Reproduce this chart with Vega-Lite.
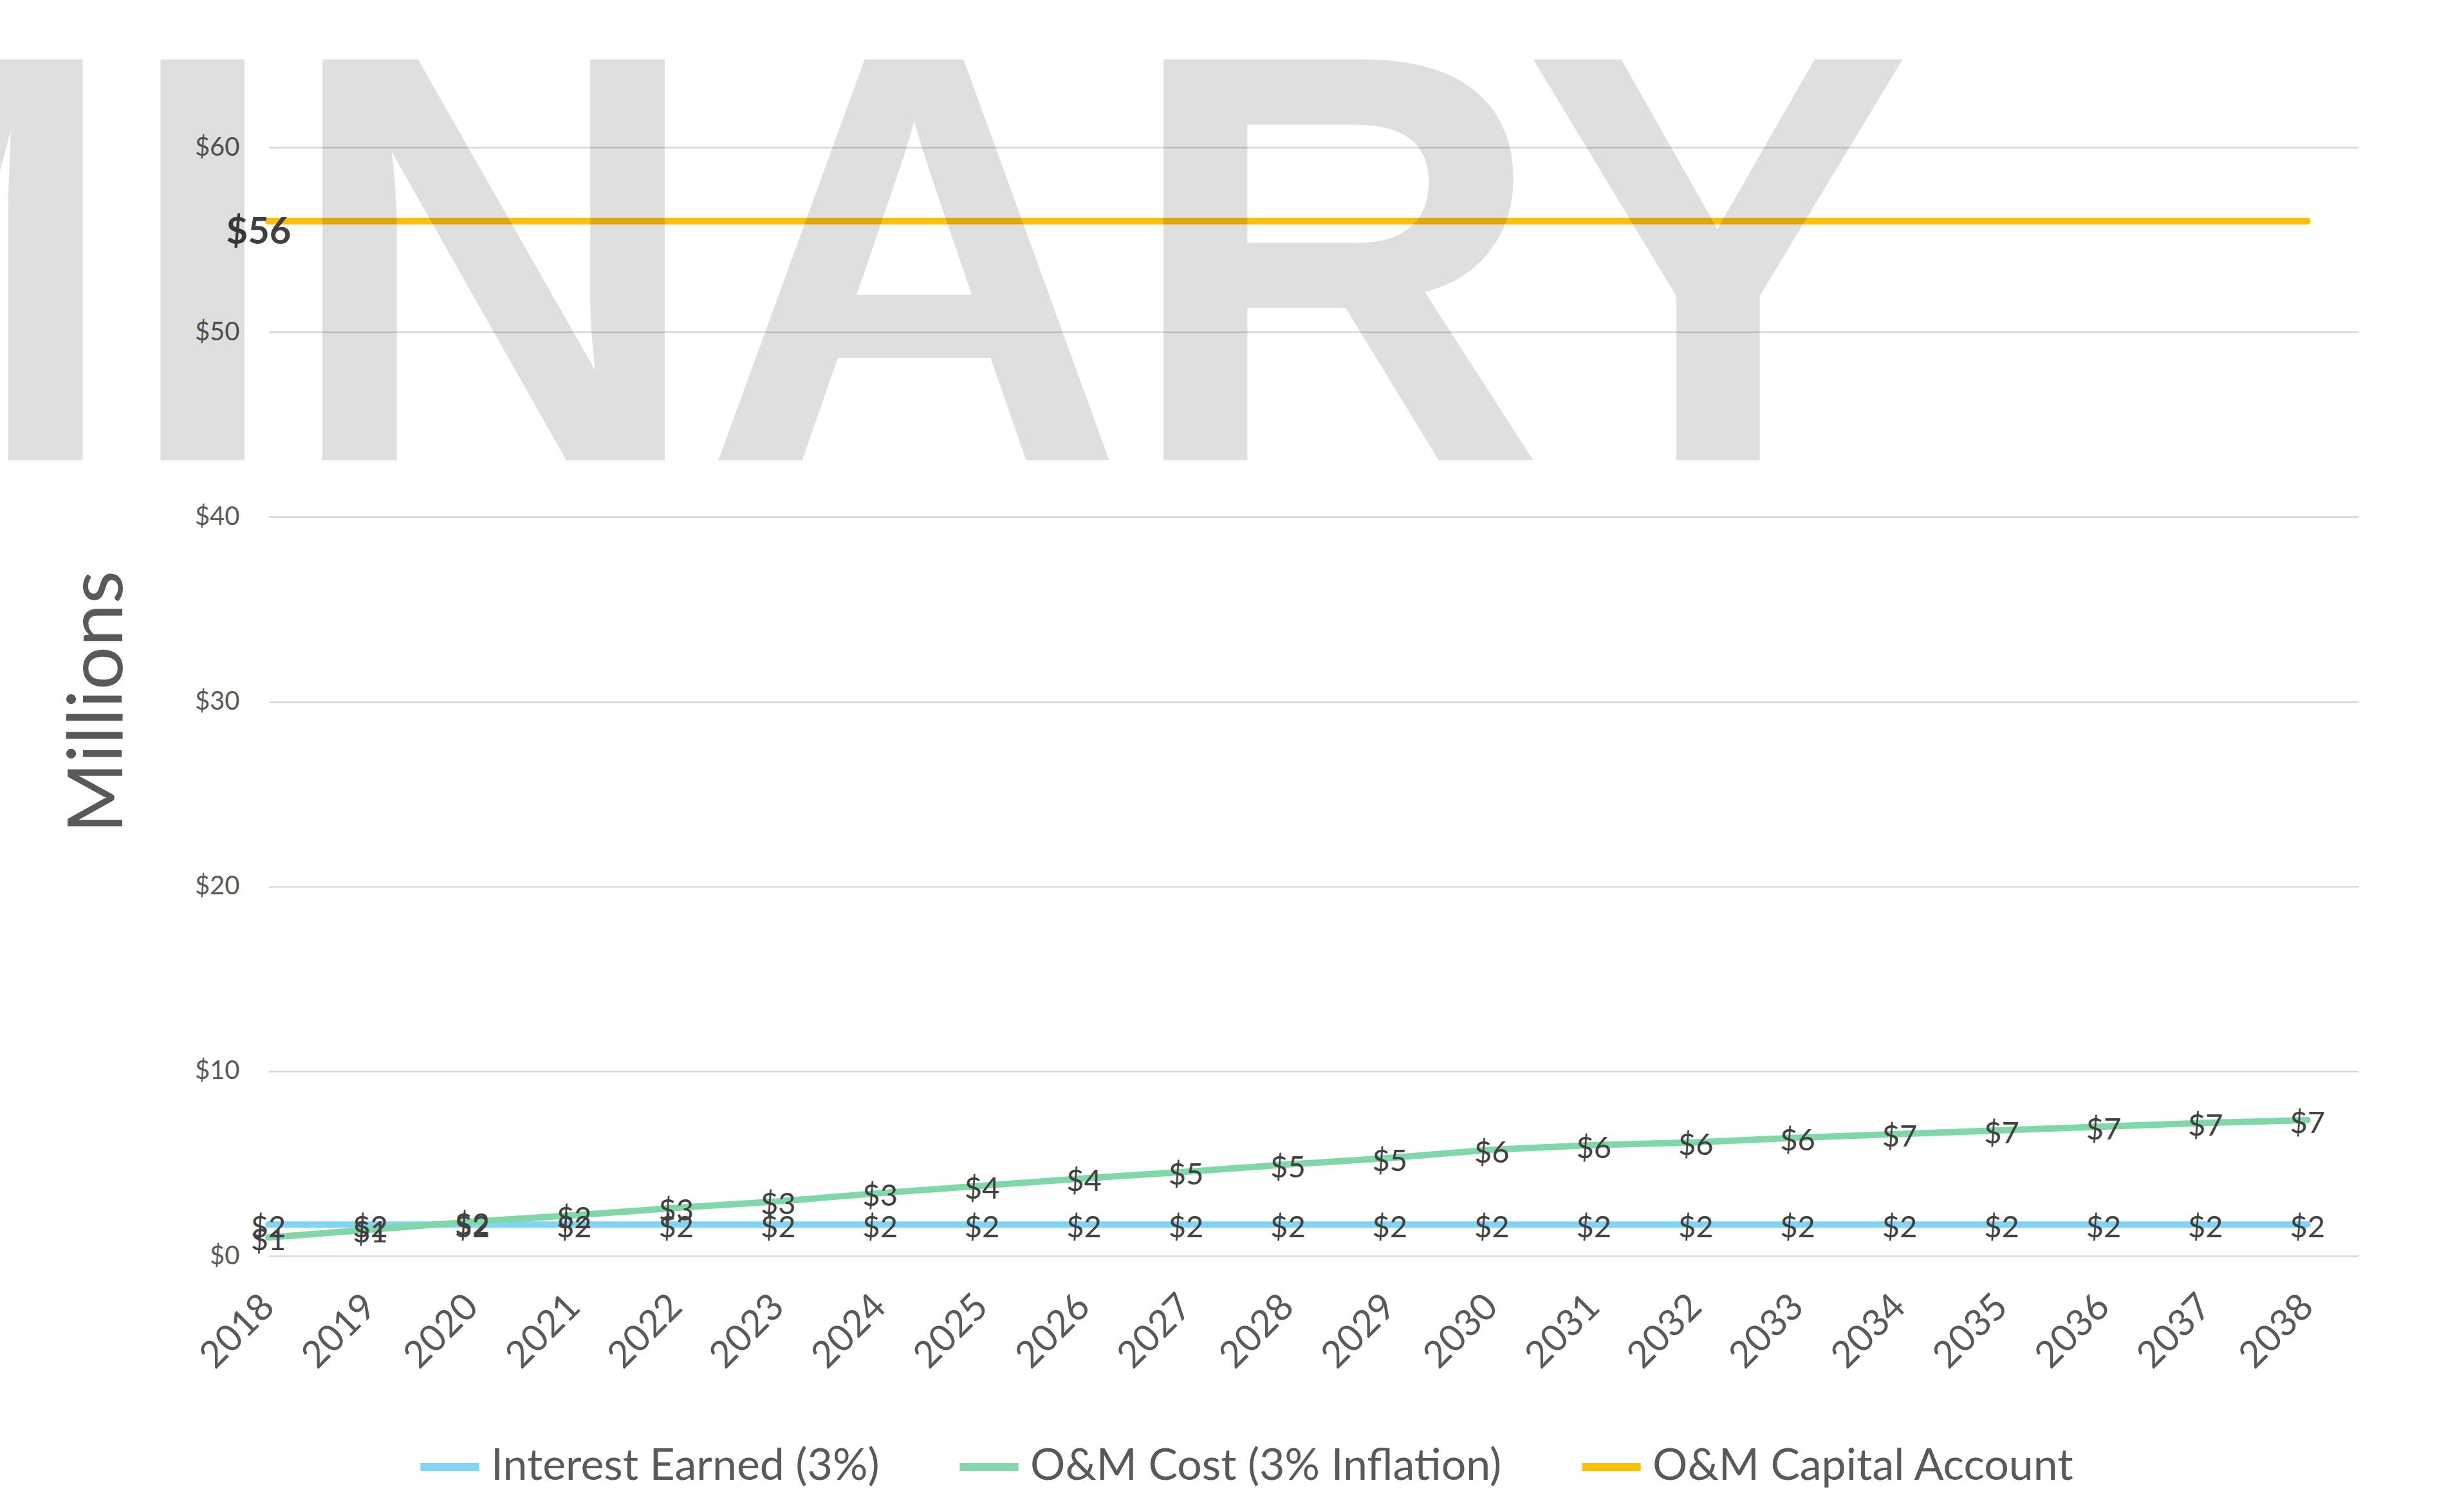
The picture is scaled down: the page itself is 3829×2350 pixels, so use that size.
{
  "$schema": "https://vega.github.io/schema/vega-lite/v6.json",
  "autosize": {"type": "none"},
  "padding": {"left": 417, "top": 229, "right": 164, "bottom": 398},
  "width": 3248,
  "height": 1723,
  "background": "white",
  "config": {"view": {"stroke": null}, "font": "Lato"},
  "datasets": {
    "series": [
      {"year": 2018, "series": "Interest Earned (3%)", "value": 1.7},
      {"year": 2019, "series": "Interest Earned (3%)", "value": 1.7},
      {"year": 2020, "series": "Interest Earned (3%)", "value": 1.7},
      {"year": 2021, "series": "Interest Earned (3%)", "value": 1.7},
      {"year": 2022, "series": "Interest Earned (3%)", "value": 1.7},
      {"year": 2023, "series": "Interest Earned (3%)", "value": 1.7},
      {"year": 2024, "series": "Interest Earned (3%)", "value": 1.7},
      {"year": 2025, "series": "Interest Earned (3%)", "value": 1.7},
      {"year": 2026, "series": "Interest Earned (3%)", "value": 1.7},
      {"year": 2027, "series": "Interest Earned (3%)", "value": 1.7},
      {"year": 2028, "series": "Interest Earned (3%)", "value": 1.7},
      {"year": 2029, "series": "Interest Earned (3%)", "value": 1.7},
      {"year": 2030, "series": "Interest Earned (3%)", "value": 1.7},
      {"year": 2031, "series": "Interest Earned (3%)", "value": 1.7},
      {"year": 2032, "series": "Interest Earned (3%)", "value": 1.7},
      {"year": 2033, "series": "Interest Earned (3%)", "value": 1.7},
      {"year": 2034, "series": "Interest Earned (3%)", "value": 1.7},
      {"year": 2035, "series": "Interest Earned (3%)", "value": 1.7},
      {"year": 2036, "series": "Interest Earned (3%)", "value": 1.7},
      {"year": 2037, "series": "Interest Earned (3%)", "value": 1.7},
      {"year": 2038, "series": "Interest Earned (3%)", "value": 1.7},
      {"year": 2018, "series": "O&M Cost (3% Inflation)", "value": 1.0},
      {"year": 2019, "series": "O&M Cost (3% Inflation)", "value": 1.42},
      {"year": 2020, "series": "O&M Cost (3% Inflation)", "value": 1.85},
      {"year": 2021, "series": "O&M Cost (3% Inflation)", "value": 2.2},
      {"year": 2022, "series": "O&M Cost (3% Inflation)", "value": 2.6},
      {"year": 2023, "series": "O&M Cost (3% Inflation)", "value": 2.95},
      {"year": 2024, "series": "O&M Cost (3% Inflation)", "value": 3.4},
      {"year": 2025, "series": "O&M Cost (3% Inflation)", "value": 3.8},
      {"year": 2026, "series": "O&M Cost (3% Inflation)", "value": 4.2},
      {"year": 2027, "series": "O&M Cost (3% Inflation)", "value": 4.55},
      {"year": 2028, "series": "O&M Cost (3% Inflation)", "value": 4.95},
      {"year": 2029, "series": "O&M Cost (3% Inflation)", "value": 5.3},
      {"year": 2030, "series": "O&M Cost (3% Inflation)", "value": 5.75},
      {"year": 2031, "series": "O&M Cost (3% Inflation)", "value": 6.0},
      {"year": 2032, "series": "O&M Cost (3% Inflation)", "value": 6.15},
      {"year": 2033, "series": "O&M Cost (3% Inflation)", "value": 6.4},
      {"year": 2034, "series": "O&M Cost (3% Inflation)", "value": 6.6},
      {"year": 2035, "series": "O&M Cost (3% Inflation)", "value": 6.8},
      {"year": 2036, "series": "O&M Cost (3% Inflation)", "value": 7.0},
      {"year": 2037, "series": "O&M Cost (3% Inflation)", "value": 7.2},
      {"year": 2038, "series": "O&M Cost (3% Inflation)", "value": 7.35},
      {"year": 2018, "series": "O&M Capital Account", "value": 56},
      {"year": 2019, "series": "O&M Capital Account", "value": 56},
      {"year": 2020, "series": "O&M Capital Account", "value": 56},
      {"year": 2021, "series": "O&M Capital Account", "value": 56},
      {"year": 2022, "series": "O&M Capital Account", "value": 56},
      {"year": 2023, "series": "O&M Capital Account", "value": 56},
      {"year": 2024, "series": "O&M Capital Account", "value": 56},
      {"year": 2025, "series": "O&M Capital Account", "value": 56},
      {"year": 2026, "series": "O&M Capital Account", "value": 56},
      {"year": 2027, "series": "O&M Capital Account", "value": 56},
      {"year": 2028, "series": "O&M Capital Account", "value": 56},
      {"year": 2029, "series": "O&M Capital Account", "value": 56},
      {"year": 2030, "series": "O&M Capital Account", "value": 56},
      {"year": 2031, "series": "O&M Capital Account", "value": 56},
      {"year": 2032, "series": "O&M Capital Account", "value": 56},
      {"year": 2033, "series": "O&M Capital Account", "value": 56},
      {"year": 2034, "series": "O&M Capital Account", "value": 56},
      {"year": 2035, "series": "O&M Capital Account", "value": 56},
      {"year": 2036, "series": "O&M Capital Account", "value": 56},
      {"year": 2037, "series": "O&M Capital Account", "value": 56},
      {"year": 2038, "series": "O&M Capital Account", "value": 56}
    ]
  },
  "data": {"name": "series"},
  "layer": [
    {
      "mark": {"type": "line", "strokeWidth": 10, "strokeCap": "round", "strokeJoin": "round"},
      "encoding": {
        "x": {
          "field": "year", "type": "quantitative",
          "scale": {"domain": [2018, 2038.5], "nice": false, "zero": false},
          "axis": {
            "values": [2018, 2019, 2020, 2021, 2022, 2023, 2024, 2025, 2026, 2027, 2028, 2029, 2030, 2031, 2032, 2033, 2034, 2035, 2036, 2037, 2038],
            "format": "d", "labelAngle": -45, "labelAlign": "right", "labelBaseline": "middle",
            "labelFontSize": 58, "labelColor": "#595959", "labelPadding": 70, "labelOverlap": false,
            "labelFlush": false, "domain": false, "ticks": false, "grid": false, "title": null
          }
        },
        "y": {
          "field": "value", "type": "quantitative",
          "scale": {"domain": [0, 60], "nice": false},
          "axis": {
            "values": [0, 10, 20, 30, 40, 50, 60], "format": "$.0f",
            "labelFontSize": 40, "labelColor": "#595959", "labelPadding": 45,
            "domain": false, "ticks": false, "gridColor": "#D9D9D9", "gridWidth": 2.5,
            "title": "Millions", "titleFontSize": 119, "titleFontWeight": "normal", "titleColor": "#595959",
            "titlePadding": 88
          }
        },
        "color": {
          "field": "series", "type": "nominal",
          "scale": {
            "domain": ["Interest Earned (3%)", "O&M Cost (3% Inflation)", "O&M Capital Account"],
            "range": ["#80D5F5", "#80D8A8", "#FFC000"]
          },
          "legend": {
            "orient": "none", "legendX": 230, "legendY": 1999, "direction": "horizontal",
            "title": null, "symbolType": "stroke", "symbolSize": 8300, "symbolStrokeWidth": 12,
            "labelFontSize": 68, "labelColor": "#595959", "columnPadding": 100, "labelOffset": 12,
            "padding": 0, "labelLimit": 2000
          }
        }
      }
    },
    {
      "transform": [{"filter": "datum.series != 'O&M Capital Account'"}],
      "mark": {"type": "text", "fontSize": 47, "color": "#404040", "dy": 6, "align": "center", "baseline": "middle"},
      "encoding": {
        "x": {"field": "year", "type": "quantitative"},
        "y": {"field": "value", "type": "quantitative"},
        "text": {"field": "value", "type": "quantitative", "format": "$.0f"}
      }
    },
    {
      "transform": [{"filter": "datum.series == 'O&M Capital Account' && datum.year == 2018"}],
      "mark": {"type": "text", "fontSize": 58, "fontWeight": "bold", "color": "#404040", "dx": -15, "dy": 18, "align": "center", "baseline": "middle"},
      "encoding": {
        "x": {"field": "year", "type": "quantitative"},
        "y": {"field": "value", "type": "quantitative"},
        "text": {"field": "value", "type": "quantitative", "format": "$.0f"}
      }
    },
    {
      "data": {"values": [{"label": "PRELIMINARY"}]},
      "mark": {"type": "text", "font": "Liberation Sans", "fontWeight": 700, "fontSize": 905, "align": "right", "baseline": "alphabetic", "color": "#000000", "opacity": 0.12},
      "encoding": {
        "x": {"datum": 2034.12},
        "y": {"datum": 43.07},
        "text": {"field": "label", "type": "nominal"}
      }
    }
  ]
}
